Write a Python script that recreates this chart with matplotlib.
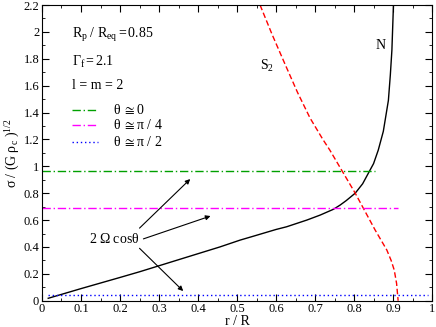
import matplotlib
matplotlib.use("Agg")
import matplotlib.pyplot as plt
from matplotlib.ticker import MultipleLocator

plt.rcParams['font.family'] = ['Liberation Serif', 'DejaVu Serif']
plt.rcParams['mathtext.fontset'] = 'custom'
plt.rcParams['mathtext.rm'] = 'Liberation Serif'
plt.rcParams['mathtext.it'] = 'Liberation Serif:italic'

# N curve (black solid)
n_r = [0.016, 0.1, 0.2, 0.251, 0.35, 0.456, 0.508, 0.542, 0.6, 0.627, 0.679,
       0.713, 0.747, 0.764, 0.78, 0.803, 0.822, 0.841, 0.85, 0.862, 0.875,
       0.888, 0.893, 0.897, 0.901]
n_s = [0.018, 0.09, 0.173, 0.216, 0.305, 0.40, 0.451, 0.48, 0.53, 0.55, 0.60,
       0.637, 0.68, 0.711, 0.745, 0.80, 0.87, 0.972, 1.02, 1.12, 1.26,
       1.49, 1.68, 1.864, 2.2]

# S2 curve (red dashed)
s_r = [0.559, 0.59, 0.623, 0.655, 0.687, 0.72, 0.738, 0.768, 0.803, 0.824,
       0.854, 0.884, 0.895, 0.903, 0.909, 0.913]
s_s = [2.2, 1.98, 1.76, 1.55, 1.36, 1.2, 1.12, 0.972, 0.80, 0.687,
       0.526, 0.377, 0.3, 0.228, 0.129, 0.0]

# 2 Omega cos(theta) levels
theta_labels = [r'$\mathrm{\theta\ \cong 0}$', r'$\mathrm{\theta\ \cong \pi\ /\ 4}$',
                r'$\mathrm{\theta\ \cong \pi\ /\ 2}$']
theta_vals = [0.967, 0.687, 0.042]
theta_start = [0.0, 0.0, 0.016]
theta_end = [0.854, 0.913, 0.99]
theta_colors = ['#00a000', '#ff00ff', '#0000ff']
theta_styles = [(0, (6, 2, 1, 2)), (0, (6, 2, 1, 2)), (0, (1, 2))]

fig = plt.figure(figsize=(4.36, 3.27), dpi=100)
ax = fig.add_axes([0.0963, 0.0804, 0.8947, 0.9043])

ax.plot(n_r, n_s, color='black', lw=1.0)
ax.plot(s_r, s_s, color='red', lw=1.0, ls=(0, (4, 2)))
for v, a, b, c, st in zip(theta_vals, theta_start, theta_end, theta_colors, theta_styles):
    ax.plot([a, b], [v, v], color=c, lw=1.0, ls=st)

# legend drawn by hand (xmgrace style)
ly = [1.418, 1.306, 1.18]
for y, lab, c, st in zip(ly, theta_labels, theta_colors, theta_styles):
    ax.plot([0.076, 0.144], [y, y], color=c, lw=1.0, ls=st)
    ax.text(0.183, y, lab, fontsize=10, va='center', ha='left')

ax.text(0.076, 1.975, r'$\mathrm{R_p\ /\ R_{eq} = 0.85}$', fontsize=10, va='center')
ax.text(0.076, 1.777, r'$\mathrm{\Gamma_f = 2.1}$', fontsize=10, va='center')
ax.text(0.076, 1.604, 'l = m = 2', fontsize=10, va='center')

ax.text(0.867, 1.9, 'N', fontsize=10, va='center', ha='center')
ax.text(0.576, 1.75, r'$\mathrm{S_2}$', fontsize=10, va='center', ha='center')

ax.text(0.184, 0.456, r'$\mathrm{2\ \Omega\ cos\theta}$', fontsize=10, va='center', ha='center')
arrows = [((0.25, 0.54), (0.38, 0.905)),
          ((0.26, 0.46), (0.432, 0.63)),
          ((0.25, 0.39), (0.362, 0.072))]
for (x0, y0), (x1, y1) in arrows:
    ax.annotate('', xy=(x1, y1), xytext=(x0, y0),
                arrowprops=dict(arrowstyle='-|>', color='black', lw=0.8,
                                mutation_scale=7, shrinkA=0, shrinkB=0))

ax.set_xlim(0, 1)
ax.set_ylim(0, 2.2)
ax.xaxis.set_minor_locator(MultipleLocator(0.05))
ax.yaxis.set_minor_locator(MultipleLocator(0.1))
ax.set_xticks([0, 0.1, 0.2, 0.3, 0.4, 0.5, 0.6, 0.7, 0.8, 0.9, 1.0])
ax.set_xticklabels(['0', '0.1', '0.2', '0.3', '0.4', '0.5', '0.6', '0.7', '0.8', '0.9', '1'])
ax.set_yticks([0, 0.2, 0.4, 0.6, 0.8, 1.0, 1.2, 1.4, 1.6, 1.8, 2.0, 2.2])
ax.set_yticklabels(['0', '0.2', '0.4', '0.6', '0.8', '1', '1.2', '1.4', '1.6', '1.8', '2', '2.2'])
ax.tick_params(which='both', direction='in', top=True, right=True, labelsize=9, pad=2)
ax.tick_params(which='major', length=5)
ax.tick_params(which='minor', length=2.5)

ax.set_xlabel('r / R', fontsize=10, labelpad=0)
ax.set_ylabel(r'$\mathrm{\sigma\ /\ (G\ \rho_c\ )^{1/2}}$', fontsize=10, labelpad=1)

fig.savefig('out.png', dpi=100)
